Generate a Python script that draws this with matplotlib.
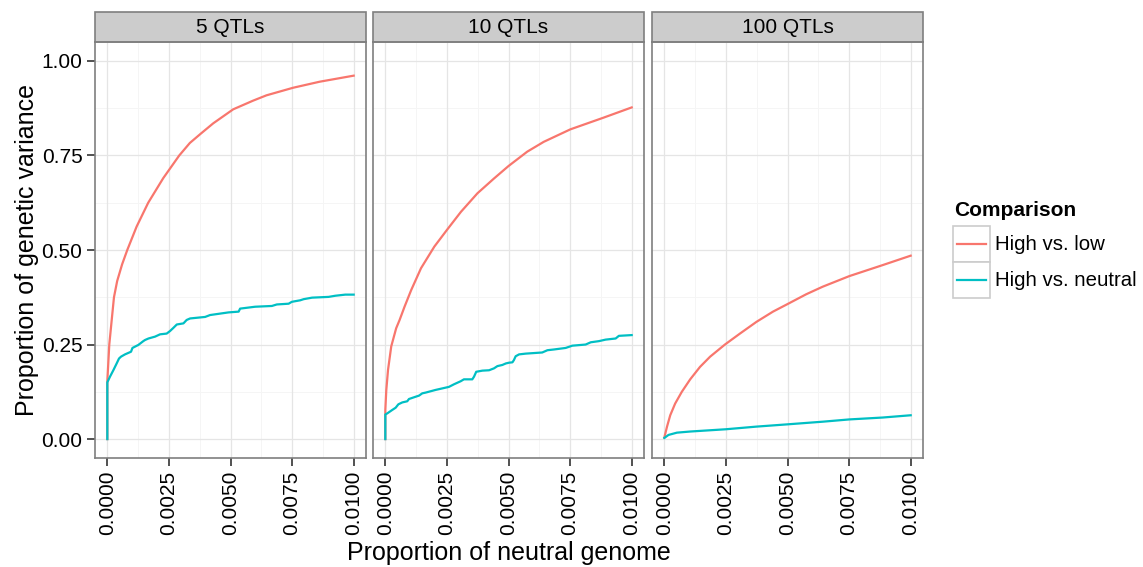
import matplotlib
matplotlib.use("Agg")
import matplotlib.pyplot as plt
from matplotlib.patches import Rectangle
from matplotlib.lines import Line2D

plt.rcParams['font.family'] = ['Liberation Sans', 'DejaVu Sans']

panels = ["5 QTLs", "10 QTLs", "100 QTLs"]
series_names = ["High vs. low", "High vs. neutral"]
colors = ["#F8766D", "#00BFC4"]

# 5 QTLs
x5_low = [0, 0, 0.00008, 0.00018, 0.00027, 0.0004, 0.0006, 0.00081, 0.00119, 0.00166, 0.00227,
          0.00292, 0.00335, 0.0038, 0.0043, 0.00511, 0.00592, 0.00646, 0.00754, 0.00862, 0.01]
y5_low = [0, 0.153, 0.25, 0.316, 0.375, 0.418, 0.462, 0.50, 0.562, 0.625, 0.69,
          0.75, 0.783, 0.808, 0.835, 0.872, 0.895, 0.909, 0.929, 0.945, 0.961]
x5_neu = [0, 0, 0.000108, 0.000244, 0.000379, 0.000474, 0.000556, 0.000718, 0.000962, 0.00102,
          0.00126, 0.00146, 0.00153, 0.00167, 0.00194, 0.00214, 0.00241, 0.00255, 0.00268, 0.00282,
          0.00309, 0.00322, 0.00336, 0.00397, 0.00417, 0.00492, 0.00533, 0.00539, 0.006, 0.00668,
          0.00688, 0.00736, 0.00749, 0.00783, 0.00797, 0.00831, 0.00898, 0.00925, 0.00966, 0.01]
y5_neu = [0, 0.150, 0.165, 0.182, 0.200, 0.213, 0.218, 0.224, 0.231, 0.241,
          0.249, 0.259, 0.262, 0.266, 0.271, 0.277, 0.279, 0.286, 0.294, 0.303,
          0.306, 0.315, 0.319, 0.323, 0.328, 0.335, 0.337, 0.345, 0.350, 0.352,
          0.356, 0.358, 0.363, 0.367, 0.370, 0.374, 0.376, 0.379, 0.382, 0.382]

# 10 QTLs
x10_low = [0, 0, 0.00004, 0.00011, 0.00024, 0.00044, 0.00058, 0.00078, 0.00105, 0.00145,
           0.00199, 0.0025, 0.00307, 0.00374, 0.00441, 0.005, 0.00576, 0.00643, 0.00751, 0.00886,
           0.01]
y10_low = [0, 0.077, 0.130, 0.183, 0.245, 0.293, 0.315, 0.350, 0.394, 0.452,
           0.509, 0.553, 0.601, 0.650, 0.689, 0.722, 0.760, 0.786, 0.819, 0.850,
           0.877]
x10_neu = [0, 0, 0.00008, 0.00028, 0.00042, 0.00053, 0.00069, 0.00089, 0.00096, 0.00123,
           0.00137, 0.0015, 0.00164, 0.00204, 0.00258, 0.00279, 0.00306, 0.00319, 0.00353, 0.0036,
           0.00369, 0.00394, 0.00421, 0.00441, 0.00455, 0.00475, 0.00489, 0.00502, 0.00516, 0.00522,
           0.00529, 0.00543, 0.0057, 0.00637, 0.00658, 0.00685, 0.00732, 0.00759, 0.00813, 0.00834,
           0.00867, 0.00894, 0.00935, 0.00948, 0.01]
y10_neu = [0, 0.065, 0.068, 0.077, 0.083, 0.092, 0.097, 0.100, 0.106, 0.112,
           0.115, 0.121, 0.123, 0.130, 0.138, 0.145, 0.153, 0.158, 0.158, 0.165,
           0.178, 0.181, 0.182, 0.187, 0.193, 0.196, 0.200, 0.202, 0.203, 0.209,
           0.219, 0.224, 0.226, 0.229, 0.235, 0.237, 0.241, 0.247, 0.250, 0.256,
           0.259, 0.263, 0.266, 0.273, 0.275]

# 100 QTLs
x100_low = [0, 0.00011, 0.00024, 0.00044, 0.00071, 0.00105, 0.00145, 0.00186, 0.00246, 0.00307,
            0.00374, 0.00441, 0.005, 0.00576, 0.00643, 0.00751, 0.00886, 0.01]
y100_low = [0.004, 0.033, 0.063, 0.094, 0.125, 0.158, 0.191, 0.218, 0.25, 0.279,
            0.310, 0.337, 0.357, 0.383, 0.403, 0.431, 0.460, 0.485]
x100_neu = [0, 0.00017, 0.00051, 0.00105, 0.0025, 0.00374, 0.005, 0.00643, 0.00751, 0.00886,
            0.01]
y100_neu = [0.003, 0.011, 0.017, 0.020, 0.026, 0.033, 0.039, 0.046, 0.052, 0.057,
            0.063]

data = [
    [(x5_low, y5_low), (x5_neu, y5_neu)],
    [(x10_low, y10_low), (x10_neu, y10_neu)],
    [(x100_low, y100_low), (x100_neu, y100_neu)],
]

xticks = [0, 0.0025, 0.005, 0.0075, 0.01]
xminor = [0.00125, 0.00375, 0.00625, 0.00875]
yticks = [0, 0.25, 0.5, 0.75, 1.0]
yminor = [0.125, 0.375, 0.625, 0.875]

W, H = 1143, 567
fig = plt.figure(figsize=(W / 100, H / 100), dpi=100)

panel_left = [95, 373, 652]
panel_w = 271
panel_top, panel_bottom = 42, 458
strip_h = 30

for i, name in enumerate(panels):
    ax = fig.add_axes([panel_left[i] / W, (H - panel_bottom) / H,
                       panel_w / W, (panel_bottom - panel_top) / H])
    ax.set_xlim(-0.0005, 0.0105)
    ax.set_ylim(-0.05, 1.05)
    for v in xminor:
        ax.axvline(v, color="#F5F5F5", lw=0.7, zorder=0)
    for v in yminor:
        ax.axhline(v, color="#F5F5F5", lw=0.7, zorder=0)
    for v in xticks:
        ax.axvline(v, color="#E5E5E5", lw=0.9, zorder=0)
    for v in yticks:
        ax.axhline(v, color="#E5E5E5", lw=0.9, zorder=0)

    for (xs, ys), c in zip(data[i], colors):
        ax.plot(xs, ys, color=c, lw=1.6, zorder=3)

    ax.set_xticks(xticks)
    ax.set_xticklabels(["%.4f" % v for v in xticks], rotation=90, fontsize=15)
    ax.set_yticks(yticks)
    ax.tick_params(length=6, width=1.2, color="#333333", pad=3)
    if i == 0:
        ax.set_yticklabels(["%.2f" % v for v in yticks], fontsize=15)
    else:
        ax.tick_params(axis="y", left=False, labelleft=False)
    for s in ax.spines.values():
        s.set_color("#7F7F7F")
        s.set_linewidth(1.2)

    # strip
    sh = strip_h / (panel_bottom - panel_top)
    ax.add_patch(Rectangle((0, 1), 1, sh, transform=ax.transAxes, clip_on=False,
                           facecolor="#CCCCCC", edgecolor="#7F7F7F", lw=1.2))
    ax.text(0.5, 1 + sh / 2, name, transform=ax.transAxes, ha="center", va="center",
            fontsize=15)

fig.text(509 / W, 1 - 553 / H, "Proportion of neutral genome", ha="center", va="center",
         fontsize=18)
fig.text(27 / W, 1 - 250 / H, "Proportion of genetic variance", ha="center", va="center",
         rotation=90, fontsize=18)

# legend
fig.text(954 / W, 1 - 210 / H, "Comparison", ha="left", va="center", fontsize=15,
         fontweight="bold")
for k, (lab, c) in enumerate(zip(series_names, colors)):
    top = 226 + 36 * k
    fig.add_artist(Rectangle((953 / W, 1 - (top + 36) / H), 37 / W, 36 / H,
                             transform=fig.transFigure, facecolor="white",
                             edgecolor="#CCCCCC", lw=1.2))
    yc = 1 - (top + 18) / H
    fig.add_artist(Line2D([957 / W, 986 / W], [yc, yc], transform=fig.transFigure,
                          color=c, lw=1.6))
    fig.text(995 / W, yc, lab, ha="left", va="center", fontsize=14.7)

fig.savefig("out.png", dpi=100)
